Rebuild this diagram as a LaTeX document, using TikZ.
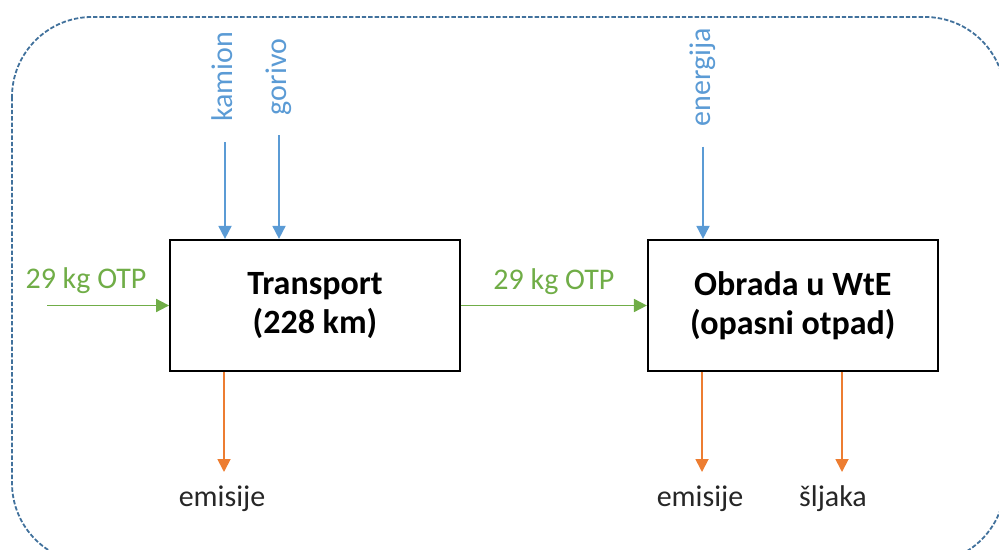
\documentclass[tikz,border=0pt]{standalone}
\usepackage{fontspec}
\setmainfont{Carlito}
\usetikzlibrary{arrows.meta, positioning}
\definecolor{inblue}{RGB}{91,155,213}
\definecolor{otpgreen}{RGB}{112,173,71}
\definecolor{outorange}{RGB}{237,125,49}
\definecolor{frameblue}{RGB}{65,113,156}
\definecolor{labelgray}{RGB}{38,38,38}

\begin{document}
\begin{tikzpicture}[x=0.5pt, y=-0.5pt,
	proc/.style={draw, line width=1.1pt, minimum width=144.8pt, minimum height=65.5pt,
		align=center, font=\fontsize{17}{19.5}\selectfont\bfseries},
	lbl/.style={font=\fontsize{15}{18}\selectfont, text height=11.25pt, text depth=3.75pt, inner sep=2pt},
	inlabel/.style={lbl, text=inblue, rotate=90},
	otplabel/.style={lbl, text=otpgreen},
	outlabel/.style={lbl, text=labelgray},
	tip/.style={-{Triangle[width=6.5pt,length=6.5pt]}},
	inflow/.style={draw=inblue, line width=0.9pt, tip, shorten <=8pt},
	otpflow/.style={draw=otpgreen, line width=0.9pt, tip},
	outflow/.style={draw=outorange, line width=0.9pt, tip},
	frame/.style={draw=frameblue, line width=0.9pt, dash pattern=on 2.2pt off 1pt, rounded corners=40pt}]
	\useasboundingbox (0,0) rectangle (999,550);
	\clip (0,0) rectangle (999,550);
	\draw[frame] (12,17) rectangle (1005,563);

	% process boxes
	\node[proc] (transport) at (315,305.5) {Transport\\(228 km)};
	\node[proc, right=93pt of transport] (obrada) {Obrada u WtE\\(opasni otpad)};

	% inputs
	\foreach \name/\xx/\target in {kamion/225/transport, gorivo/279/transport, energija/703/obrada} {
		\node[inlabel] (\name) at (\xx,77) {\name};
		\draw[inflow] (\name) -- (\name |- \target.north);
	}

	% waste flow
	\coordinate (src) at (47,305.5);
	\node[otplabel] (otpin) at (86,280.5) {29 kg OTP};
	\draw[otpflow] (src) -- (transport);
	\draw[otpflow] (transport) -- node[otplabel, above=2pt] (otpmid) {29 kg OTP} (obrada);

	% outputs
	\coordinate (emt) at (224,472);
	\coordinate (emo) at (702,472);
	\coordinate (slag) at (842,472);
	\node[outlabel, below=4pt of emt, xshift=-1pt] (emisijet) {emisije};
	\node[outlabel, below=4pt of emo, xshift=-1pt] (emisijeo) {emisije};
	\node[outlabel, below=4pt of slag, xshift=-4.5pt] (sljaka) {šljaka};
	\draw[outflow] (emt |- transport.south) -- (emt);
	\draw[outflow] (emo |- obrada.south) -- (emo);
	\draw[outflow] (slag |- obrada.south) -- (slag);
\end{tikzpicture}
\end{document}
